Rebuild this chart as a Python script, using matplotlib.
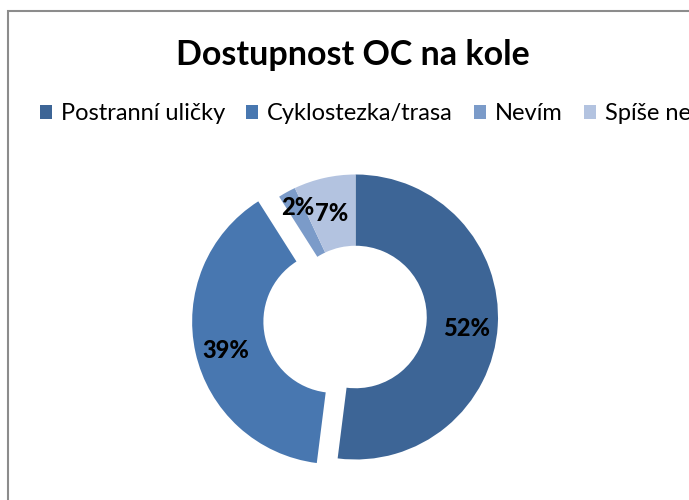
import numpy as np
import matplotlib.pyplot as plt
from matplotlib.patches import Patch, Rectangle

plt.rcParams['font.family'] = ['Lato', 'DejaVu Sans']

labels = ['Postranní uličky', 'Cyklostezka/trasa', 'Nevím', 'Spíše ne']
values = [52, 39, 2, 7]
colors = ['#3d6596', '#4877b0', '#7b9bc9', '#b3c3e0']
explode = [0, 0.15, 0, 0]

fig = plt.figure(figsize=(6.89, 5.0), dpi=100)

# chart frame (only top and left edges are visible in the crop)
fig.patches.append(Rectangle((7.5 / 689, -0.2), 1.2, 1.2 - 10.5 / 500,
                             transform=fig.transFigure, fill=False,
                             edgecolor='#8c8c8c', linewidth=1.5))

ax = fig.add_axes([0, 0, 1, 1])
wedges, texts, autotexts = ax.pie(
    values, colors=colors, explode=explode, startangle=90, counterclock=False,
    wedgeprops=dict(width=0.5, linewidth=0), autopct='%1.0f%%', pctdistance=0.78,
    textprops=dict(fontsize=17, fontweight='black', color='black'))

# labels sit a little lower in the original; small one nudged aside
for t in autotexts:
    x, y = t.get_position()
    t.set_position((x, y - 0.035))
x, y = autotexts[2].get_position()
autotexts[2].set_position((x - 0.03, y + 0.12))

r = 142.5
ax.set_xlim(-355.5 / r, (689 - 355.5) / r)
ax.set_ylim(-(500 - 317) / r, 317 / r)
ax.set_aspect('auto')
ax.axis('off')

fig.text(353 / 689, 1 - 55 / 500, 'Dostupnost OC na kole', ha='center', va='center',
         fontsize=24.5, fontweight='bold')

handles = [Patch(facecolor=c, edgecolor='none') for c in colors]
fig.legend(handles, labels, loc='center left', bbox_to_anchor=(40 / 689, 1 - 114 / 500),
           ncol=4, frameon=False, fontsize=17, handlelength=0.5, handleheight=0.5,
           handletextpad=0.38, columnspacing=0.9, borderpad=0, borderaxespad=0)

fig.savefig('out.png', dpi=100)
